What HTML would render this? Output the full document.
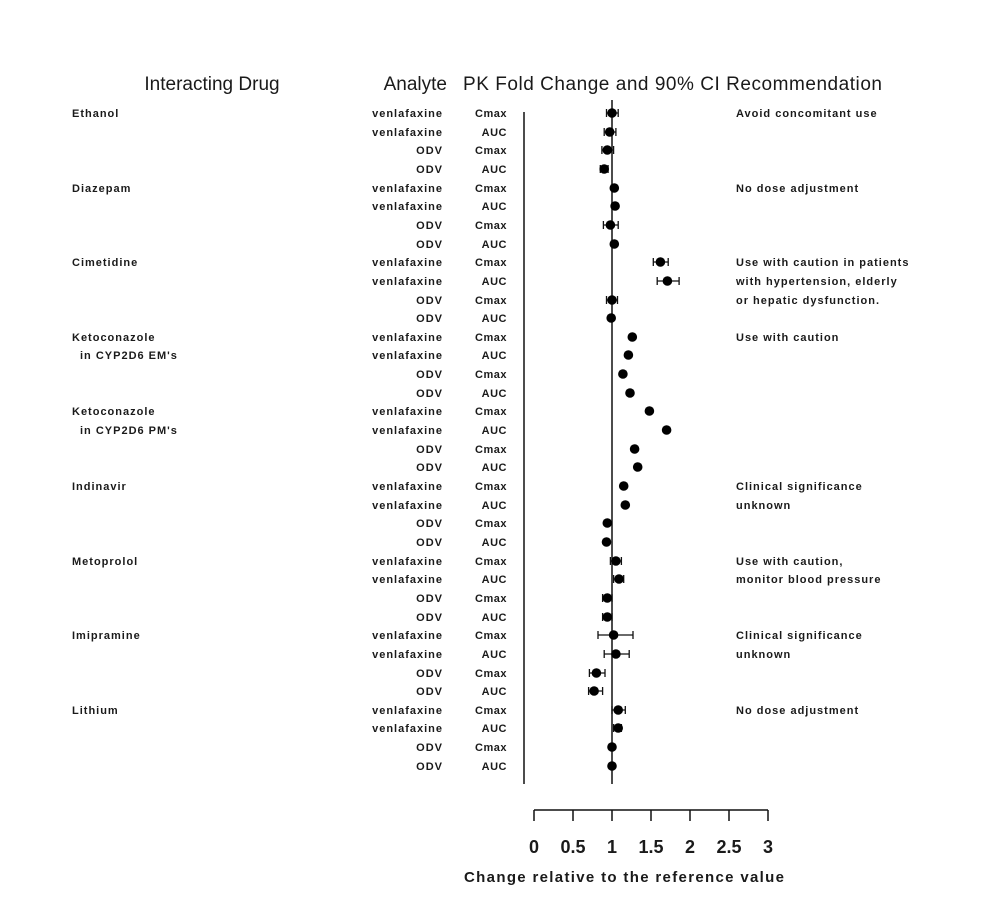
<!DOCTYPE html>
<html><head><meta charset="utf-8"><style>
html,body{margin:0;padding:0;background:#fff;}
svg text{font-family:"Liberation Sans",Arial,sans-serif;fill:#1a1a1a;}
.h{font-size:19px;}
.l{font-size:11px;font-weight:bold;letter-spacing:1px;}
.a{font-size:11px;font-weight:bold;letter-spacing:1px;text-anchor:end;}
.p{font-size:11px;font-weight:bold;letter-spacing:0.5px;text-anchor:end;}
.t{font-size:18px;font-weight:bold;text-anchor:middle;}
</style></head><body>
<svg width="995" height="910" viewBox="0 0 995 910" xmlns="http://www.w3.org/2000/svg">
<rect width="995" height="910" fill="#fff"/>
<text class="h" x="212" y="90" text-anchor="middle">Interacting Drug</text>
<text class="h" x="447" y="90" text-anchor="end">Analyte</text>
<text class="h" x="463" y="90" textLength="419">PK Fold Change and 90% CI Recommendation</text>
<line x1="524" y1="112" x2="524" y2="784" stroke="#111" stroke-width="1.5"/>
<line x1="612" y1="100" x2="612" y2="784" stroke="#111" stroke-width="1.5"/>

<text class="l" x="72" y="117">Ethanol</text>
<text class="l" x="72" y="192">Diazepam</text>
<text class="l" x="72" y="266">Cimetidine</text>
<text class="l" x="72" y="341">Ketoconazole</text>
<text class="l" x="80" y="359">in CYP2D6 EM's</text>
<text class="l" x="72" y="415">Ketoconazole</text>
<text class="l" x="80" y="434">in CYP2D6 PM's</text>
<text class="l" x="72" y="490">Indinavir</text>
<text class="l" x="72" y="565">Metoprolol</text>
<text class="l" x="72" y="639">Imipramine</text>
<text class="l" x="72" y="714">Lithium</text>

<text class="l" x="736" y="117">Avoid concomitant use</text>
<text class="l" x="736" y="192">No dose adjustment</text>
<text class="l" x="736" y="266">Use with caution in patients</text>
<text class="l" x="736" y="285">with hypertension, elderly</text>
<text class="l" x="736" y="304">or hepatic dysfunction.</text>
<text class="l" x="736" y="341">Use with caution</text>
<text class="l" x="736" y="490">Clinical significance</text>
<text class="l" x="736" y="509">unknown</text>
<text class="l" x="736" y="565">Use with caution,</text>
<text class="l" x="736" y="583">monitor blood pressure</text>
<text class="l" x="736" y="639">Clinical significance</text>
<text class="l" x="736" y="658">unknown</text>
<text class="l" x="736" y="714">No dose adjustment</text>

<g>
<text class="a" x="443" y="117">venlafaxine</text><text class="a" x="443" y="136">venlafaxine</text><text class="a" x="443" y="154">ODV</text><text class="a" x="443" y="173">ODV</text>
<text class="a" x="443" y="192">venlafaxine</text><text class="a" x="443" y="210">venlafaxine</text><text class="a" x="443" y="229">ODV</text><text class="a" x="443" y="248">ODV</text>
<text class="a" x="443" y="266">venlafaxine</text><text class="a" x="443" y="285">venlafaxine</text><text class="a" x="443" y="304">ODV</text><text class="a" x="443" y="322">ODV</text>
<text class="a" x="443" y="341">venlafaxine</text><text class="a" x="443" y="359">venlafaxine</text><text class="a" x="443" y="378">ODV</text><text class="a" x="443" y="397">ODV</text>
<text class="a" x="443" y="415">venlafaxine</text><text class="a" x="443" y="434">venlafaxine</text><text class="a" x="443" y="453">ODV</text><text class="a" x="443" y="471">ODV</text>
<text class="a" x="443" y="490">venlafaxine</text><text class="a" x="443" y="509">venlafaxine</text><text class="a" x="443" y="527">ODV</text><text class="a" x="443" y="546">ODV</text>
<text class="a" x="443" y="565">venlafaxine</text><text class="a" x="443" y="583">venlafaxine</text><text class="a" x="443" y="602">ODV</text><text class="a" x="443" y="621">ODV</text>
<text class="a" x="443" y="639">venlafaxine</text><text class="a" x="443" y="658">venlafaxine</text><text class="a" x="443" y="677">ODV</text><text class="a" x="443" y="695">ODV</text>
<text class="a" x="443" y="714">venlafaxine</text><text class="a" x="443" y="732">venlafaxine</text><text class="a" x="443" y="751">ODV</text><text class="a" x="443" y="770">ODV</text>
</g>
<g>
<text class="p" x="507" y="117">Cmax</text><text class="p" x="507" y="136">AUC</text><text class="p" x="507" y="154">Cmax</text><text class="p" x="507" y="173">AUC</text>
<text class="p" x="507" y="192">Cmax</text><text class="p" x="507" y="210">AUC</text><text class="p" x="507" y="229">Cmax</text><text class="p" x="507" y="248">AUC</text>
<text class="p" x="507" y="266">Cmax</text><text class="p" x="507" y="285">AUC</text><text class="p" x="507" y="304">Cmax</text><text class="p" x="507" y="322">AUC</text>
<text class="p" x="507" y="341">Cmax</text><text class="p" x="507" y="359">AUC</text><text class="p" x="507" y="378">Cmax</text><text class="p" x="507" y="397">AUC</text>
<text class="p" x="507" y="415">Cmax</text><text class="p" x="507" y="434">AUC</text><text class="p" x="507" y="453">Cmax</text><text class="p" x="507" y="471">AUC</text>
<text class="p" x="507" y="490">Cmax</text><text class="p" x="507" y="509">AUC</text><text class="p" x="507" y="527">Cmax</text><text class="p" x="507" y="546">AUC</text>
<text class="p" x="507" y="565">Cmax</text><text class="p" x="507" y="583">AUC</text><text class="p" x="507" y="602">Cmax</text><text class="p" x="507" y="621">AUC</text>
<text class="p" x="507" y="639">Cmax</text><text class="p" x="507" y="658">AUC</text><text class="p" x="507" y="677">Cmax</text><text class="p" x="507" y="695">AUC</text>
<text class="p" x="507" y="714">Cmax</text><text class="p" x="507" y="732">AUC</text><text class="p" x="507" y="751">Cmax</text><text class="p" x="507" y="770">AUC</text>
</g>

<g stroke="#111" stroke-width="1.3" fill="none">
<path d="M606.5 113H618.2M606.5 109V117M618.2 109V117"/>
<path d="M604.2 132H615.9M604.2 128V136M615.9 128V136"/>
<path d="M601.9 150H613.6M601.9 146V154M613.6 146V154"/>
<path d="M600.3 169H608.1M600.3 165V173M608.1 165V173"/>
<path d="M603.4 225H618.2M603.4 221V229M618.2 221V229"/>
<path d="M653.3 262H668.2M653.3 258V266M668.2 258V266"/>
<path d="M657.2 281H679.1M657.2 277V285M679.1 277V285"/>
<path d="M606.5 300H617.5M606.5 296V304M617.5 296V304"/>
<path d="M610.4 561H621.4M610.4 557V565M621.4 557V565"/>
<path d="M613.6 579H623.7M613.6 575V583M623.7 575V583"/>
<path d="M602.6 598H612M602.6 594V602M612 594V602"/>
<path d="M602.6 617H612M602.6 613V621M612 613V621"/>
<path d="M598 635H633M598 631V639M633 631V639"/>
<path d="M604.2 654H629.2M604.2 650V658M629.2 650V658"/>
<path d="M589.4 673H605M589.4 669V677M605 669V677"/>
<path d="M588.6 691H602.6M588.6 687V695M602.6 687V695"/>
<path d="M612 710H625.3M612 706V714M625.3 706V714"/>
<path d="M613.6 728H621.4M613.6 724V732M621.4 724V732"/>
</g>
<g fill="#000">
<circle cx="612" cy="113" r="4.8"/><circle cx="609.7" cy="132" r="4.8"/><circle cx="607.3" cy="150" r="4.8"/><circle cx="604.2" cy="169" r="4.8"/>
<circle cx="614.3" cy="188" r="4.8"/><circle cx="615.1" cy="206" r="4.8"/><circle cx="610.4" cy="225" r="4.8"/><circle cx="614.3" cy="244" r="4.8"/>
<circle cx="660.4" cy="262" r="4.8"/><circle cx="667.4" cy="281" r="4.8"/><circle cx="612" cy="300" r="4.8"/><circle cx="611.2" cy="318" r="4.8"/>
<circle cx="632.3" cy="337" r="4.8"/><circle cx="628.4" cy="355" r="4.8"/><circle cx="622.9" cy="374" r="4.8"/><circle cx="630" cy="393" r="4.8"/>
<circle cx="649.4" cy="411" r="4.8"/><circle cx="666.6" cy="430" r="4.8"/><circle cx="634.6" cy="449" r="4.8"/><circle cx="637.7" cy="467" r="4.8"/>
<circle cx="623.7" cy="486" r="4.8"/><circle cx="625.3" cy="505" r="4.8"/><circle cx="607.3" cy="523" r="4.8"/><circle cx="606.5" cy="542" r="4.8"/>
<circle cx="615.9" cy="561" r="4.8"/><circle cx="619" cy="579" r="4.8"/><circle cx="607.3" cy="598" r="4.8"/><circle cx="607.3" cy="617" r="4.8"/>
<circle cx="613.6" cy="635" r="4.8"/><circle cx="615.9" cy="654" r="4.8"/><circle cx="596.4" cy="673" r="4.8"/><circle cx="594.1" cy="691" r="4.8"/>
<circle cx="618.2" cy="710" r="4.8"/><circle cx="618.2" cy="728" r="4.8"/><circle cx="612" cy="747" r="4.8"/><circle cx="612" cy="766" r="4.8"/>
</g>

<line x1="534" y1="810" x2="768" y2="810" stroke="#111" stroke-width="1.5"/>
<g stroke="#111" stroke-width="1.5">
<line x1="534" y1="810" x2="534" y2="821"/><line x1="573" y1="810" x2="573" y2="821"/><line x1="612" y1="810" x2="612" y2="821"/><line x1="651" y1="810" x2="651" y2="821"/><line x1="690" y1="810" x2="690" y2="821"/><line x1="729" y1="810" x2="729" y2="821"/><line x1="768" y1="810" x2="768" y2="821"/>
</g>
<text class="t" x="534" y="853">0</text>
<text class="t" x="573" y="853">0.5</text>
<text class="t" x="612" y="853">1</text>
<text class="t" x="651" y="853">1.5</text>
<text class="t" x="690" y="853">2</text>
<text class="t" x="729" y="853">2.5</text>
<text class="t" x="768" y="853">3</text>
<text x="464" y="882" textLength="320" style="font-size:15px;font-weight:bold;">Change relative to the reference value</text>
</svg>
</body></html>
